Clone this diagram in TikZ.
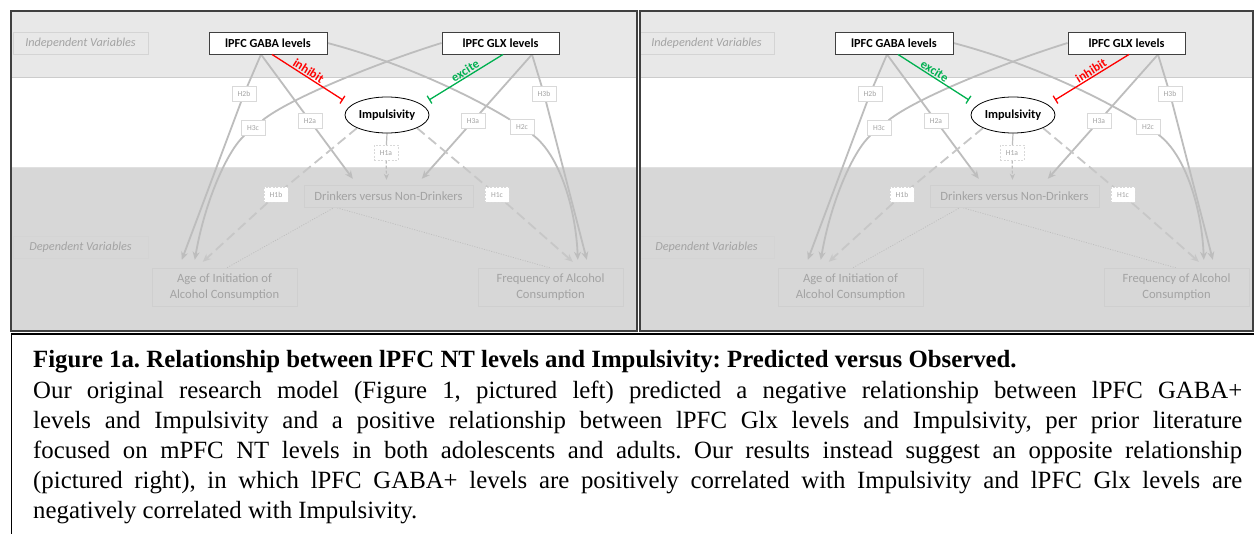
\documentclass[tikz,border=0pt]{standalone}
\usepackage{fontspec}
\setmainfont{Liberation Serif}
\newfontfamily\diagfont{Carlito}
\usetikzlibrary{arrows.meta,shapes.geometric,calc}
\frenchspacing

\pgfdeclarelayer{bands}
\pgfdeclarelayer{wires}
\pgfsetlayers{bands,wires,main}

\definecolor{bandlight}{HTML}{E8E8E8}
\definecolor{banddark}{HTML}{D7D7D7}
\definecolor{wirecol}{HTML}{BDBDBD}
\definecolor{faint}{HTML}{A3A3A3}
\definecolor{inhred}{HTML}{FF0000}
\definecolor{excgreen}{HTML}{00B050}

\tikzset{
  ivbox/.style={draw=black!75, fill=white, line width=0.9pt, minimum width=118pt,
    minimum height=22pt, inner sep=0pt, font=\diagfont\bfseries\fontsize{12.3}{14}\selectfont},
  impell/.style={ellipse, draw=black, fill=white, line width=0.8pt, minimum width=84pt,
    minimum height=36pt, inner sep=0pt, font=\diagfont\bfseries\fontsize{12.3}{14}\selectfont},
  zonelabel/.style={draw=black!17, fill=bandlight, minimum width=135pt, minimum height=22pt,
    inner sep=0pt, text=faint, font=\diagfont\itshape\fontsize{12.2}{14}\selectfont},
  dvbox/.style={draw=black!19, fill=banddark, inner sep=0pt, text=faint, align=center,
    font=\diagfont\fontsize{12.6}{16.5}\selectfont},
  hyp/.style={draw=black!15, fill=white, minimum width=24pt, minimum height=15pt,
    inner sep=0pt, text=faint, font=\diagfont\fontsize{7.6}{9}\selectfont},
  hypdash/.style={hyp, dash pattern=on 2pt off 1.5pt},
  wire/.style={draw=wirecol, line width=1.8pt},
  wirearrow/.style={wire, -{Stealth[length=8pt,width=7pt]}},
  dashwire/.style={wirearrow, draw=wirecol!85, dash pattern=on 10pt off 5pt},
  stubwire/.style={draw=wirecol, line width=1.2pt},
  thinwire/.style={stubwire, dash pattern=on 3pt off 2pt,
    -{Stealth[length=6pt,width=5pt]}},
  dotwire/.style={draw=wirecol, line width=0.7pt, dash pattern=on 1pt off 1.5pt},
  inhibitline/.style={color=inhred, line width=1.3pt, -{Bar[width=9pt,line width=1.3pt]}},
  exciteline/.style={color=excgreen, line width=1.3pt, -{Bar[width=9pt,line width=1.3pt]}},
  efflabel/.style={sloped, above, inner sep=1pt, pos=0.47,
    font=\diagfont\bfseries\fontsize{12.5}{14}\selectfont},
  frameline/.style={draw=black!75, line width=1.2pt},
}

\begin{document}
\begin{tikzpicture}[x=1pt, y=-1pt]
\useasboundingbox (0,0) rectangle (1254,534);

% background bands of the two panels
\begin{pgfonlayer}{bands}
\fill[white] (0,0) rectangle (1254,534);
\foreach \xa/\xb in {11/637, 640/1253} {
  \fill[bandlight] (\xa,11) rectangle (\xb,77);
  \fill[banddark] (\xa,167) rectangle (\xb,332);
  \draw[black!20, line width=0.8pt] (\xa,77) -- (\xb,77);
  \draw[black!12, line width=0.8pt] (\xa,167) -- (\xb,167);
}
\end{pgfonlayer}

% one model panel, drawn twice with the effect directions swapped
\foreach \ox/\pre/\gstyle/\gtext/\xstyle/\xtext in
  {0/L/inhibitline/inhibit/exciteline/excite,
   626/R/exciteline/excite/inhibitline/inhibit} {
\begin{scope}[shift={(\ox,0)}, name prefix=\pre-]
  % zone labels
  \node[zonelabel] (ivlab) at (80.5,43) {Independent Variables};
  \node[zonelabel, fill=banddark] (dvlab) at (80.5,247) {Dependent Variables};

  % outcome boxes
  \node[dvbox, minimum width=169pt, minimum height=22pt] (drink) at (388.5,196)
    {Drinkers versus Non-Drinkers};
  \node[dvbox, minimum width=145pt, minimum height=38pt] (age) at (224.5,287)
    {Age of Initiation of\\Alcohol Consumption};
  \node[dvbox, minimum width=145pt, minimum height=38pt] (freq) at (550.5,287)
    {Frequency of Alcohol\\Consumption};

  % predictors and mediator
  \node[ivbox] (gaba) at (268,43) {lPFC GABA levels};
  \node[ivbox, minimum width=117pt] (glx) at (500.5,43) {lPFC GLX levels};
  \node[impell] (imp) at (387,115) {Impulsivity};
  \coordinate (gabaend) at (343,100);
  \coordinate (glxend) at (429,100);

  % hypothesis tags
  \node[hyp] (h2b) at (244,94) {H2b};
  \node[hyp] (h3c) at (253,128) {H3c};
  \node[hyp] (h2a) at (310,121) {H2a};
  \node[hypdash] (h1a) at (386,153) {H1a};
  \node[hyp] (h3a) at (473,121) {H3a};
  \node[hyp] (h2c) at (522,127) {H2c};
  \node[hyp] (h3b) at (544,94) {H3b};
  \node[hypdash] (h1b) at (276,195) {H1b};
  \node[hypdash] (h1c) at (497,195) {H1c};

  \begin{pgfonlayer}{wires}
  % dotted links between outcomes
  \draw[dotwire] ([xshift=31pt]drink.south west) -- ([xshift=75pt]age.north west);
  \draw[dotwire] ([xshift=31pt]drink.south west) -- ([xshift=72pt]freq.north west);

  % GABA paths
  \draw[wirearrow] ([xshift=-7pt]gaba.south) -- (h2b) -- ([xshift=30pt,yshift=8pt]age.north west);
  \draw[wirearrow] ([xshift=-7pt]gaba.south) -- (h2a) -- ([xshift=49pt,yshift=6pt]drink.north west);
  \draw[wirearrow] (gaba.east) .. controls (400,62) and (470,95) .. (h2c)
     .. controls (560,155) and (576,210) .. ([xshift=100pt,yshift=8pt]freq.north west);

  % GLX paths
  \draw[wirearrow] ([xshift=31.5pt]glx.south) -- (h3a) -- ([xshift=118pt,yshift=6pt]drink.north west);
  \draw[wirearrow] ([xshift=31.5pt]glx.south) -- (h3b) -- ([xshift=109pt,yshift=8pt]freq.north west);
  \draw[wirearrow] (glx.west) .. controls (380,62) and (290,98) .. (h3c)
     .. controls (228,150) and (205,200) .. ([xshift=43pt,yshift=8pt]age.north west);

  % Impulsivity paths
  \draw[stubwire] (imp.south) -- (h1a);
  \draw[thinwire] (h1a) -- ([xshift=-2pt,yshift=5pt]drink.north);
  \draw[dashwire] (imp.south west) -- (h1b) -- ([xshift=51pt,yshift=6pt]age.north west);
  \draw[dashwire] (imp.south east) -- (h1c) -- ([xshift=95pt,yshift=6pt]freq.north west);
  \end{pgfonlayer}

  % neurotransmitter effects on Impulsivity
  \draw[\gstyle] ([xshift=4pt]gaba.south) -- node[efflabel] {\gtext} (gabaend);
  \draw[\xstyle] ([xshift=2.5pt]glx.south) -- node[efflabel] {\xtext} (glxend);
\end{scope}
}

% panel frames
\draw[frameline] (11,11) rectangle (637,331);
\draw[frameline] (640,11) rectangle (1253,331);

% caption frame
\draw[black, line width=1.6pt] (11,334) -- (1254,334);
\draw[black, line width=1pt] (11,334) -- (11,534);

% caption
\node[anchor=base west, inner sep=0pt, font=\bfseries\fontsize{24.8}{30}\selectfont] (captitle)
  at (33,367.7) {Figure 1a. Relationship between lPFC NT levels and Impulsivity: Predicted versus Observed.};
\node[anchor=north west, inner sep=0pt, text width=1209pt, align=justify,
  font=\fontsize{24.8}{30.0}\selectfont] (captext) at (33,381)
  {Our original research model (Figure 1, pictured left) predicted a negative relationship between lPFC GABA+\linebreak
   levels and Impulsivity and a positive relationship between lPFC Glx levels and Impulsivity, per prior literature\linebreak
   focused on mPFC NT levels in both adolescents and adults. Our results instead suggest an opposite relationship\linebreak
   (pictured right), in which lPFC GABA+ levels are positively correlated with Impulsivity and lPFC Glx levels are\linebreak
   negatively correlated with Impulsivity.};
\end{tikzpicture}
\end{document}
